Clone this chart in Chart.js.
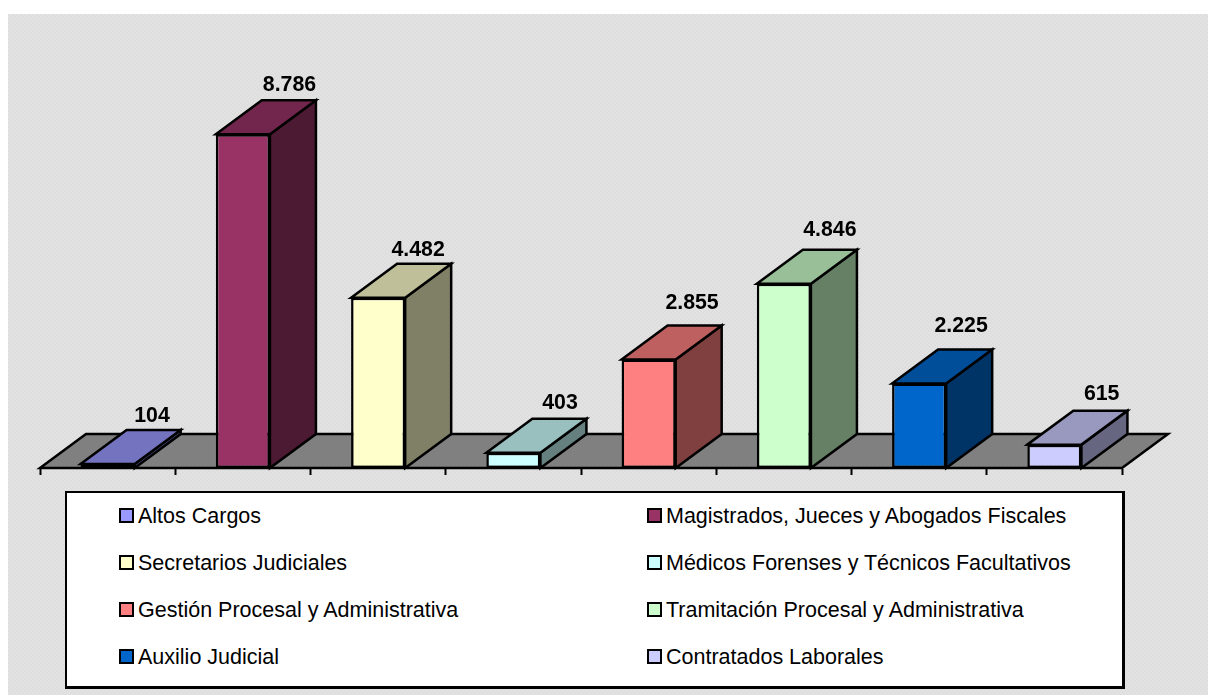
<!DOCTYPE html>
<html lang="es">
<head>
<meta charset="utf-8">
<title>Plantilla judicial</title>
<script src="https://cdn.jsdelivr.net/npm/chart.js@4/dist/chart.umd.js"></script>
<style>
    html, body { margin: 0; padding: 0; background: #fff; width: 1208px; height: 695px; overflow: hidden; }
    #panel {
        position: absolute; left: 8px; top: 14px; width: 1200px; height: 681px; background: #e0e0e0;
        background-image: conic-gradient(#e2e2e2 25%, #dedede 0 50%, #e2e2e2 0 75%, #dedede 0);
        background-size: 4px 4px;
    }
    #wrap { position: absolute; left: 0; top: 0; width: 1208px; height: 695px; }
    #legend {
        position: absolute; left: 65px; top: 491px; width: 1055px; height: 193px;
        background: #fff; border: 2px solid #000; border-right-width: 3px; border-bottom-width: 3px;
        font-family: "Liberation Sans", Arial, sans-serif; font-size: 21.5px; color: #000;
    }
    .item { position: absolute; white-space: nowrap; line-height: 24px; height: 24px; }
    .swatch {
        position: absolute; left: 0; top: 4px; width: 11px; height: 11px; border: 2px solid #000;
    }
    .item span.txt { position: absolute; left: 19px; top: 0; }
</style>
</head>
<body>
<div id="panel"></div>
<div id="wrap"><canvas id="chart" width="1208" height="695"></canvas></div>
<div id="legend"></div>
<script>
// Datos
const categories = [
    'Altos Cargos', 'Magistrados, Jueces y Abogados Fiscales',
    'Secretarios Judiciales', 'Médicos Forenses y Técnicos Facultativos',
    'Gestión Procesal y Administrativa', 'Tramitación Procesal y Administrativa',
    'Auxilio Judicial', 'Contratados Laborales'
];
const values = [104, 8786, 4482, 403, 2855, 4846, 2225, 615];
const frontColors = ['#9999FF', '#993366', '#FFFFCC', '#CCFFFF', '#FF8080', '#CCFFCC', '#0066CC', '#CCCCFF'];
const topColors = ['#7373BF', '#73264D', '#BFBF99', '#99BFBF', '#BF6060', '#99BF99', '#004D99', '#9999BF'];
const sideColors = ['#4D4D80', '#4D1A33', '#808066', '#668080', '#804040', '#668066', '#003366', '#666680'];

// Profundidad del efecto 3D
const depthX = 46;
const depthY = 34;
const edgeWidth = 2.5;

// Ajuste fino de las etiquetas de valor
const labelShiftX = [-1.6, 0.6, -6, 0.6, -2.6, 0, -4, 1.3];
const labelShiftY = [1, 0, 1, -1, -8, -5, -8, -2];

function poly(ctx, pts, fill) {
    ctx.beginPath();
    ctx.moveTo(pts[0][0], pts[0][1]);
    pts.slice(1).forEach(p => ctx.lineTo(p[0], p[1]));
    ctx.closePath();
    if (fill) {
        ctx.fillStyle = fill;
        ctx.fill();
    }
    ctx.stroke();
}

// Suelo gris del grafico
const floorPlugin = {
    id: 'floor3d',
    beforeDraw(chart) {
        const ctx = chart.ctx;
        const a = chart.chartArea;
        ctx.save();
        ctx.strokeStyle = '#000';
        ctx.lineWidth = edgeWidth;
        ctx.lineJoin = 'miter';
        poly(ctx, [[a.left, a.bottom], [a.left + depthX, a.bottom - depthY], [a.right + depthX, a.bottom - depthY], [a.right, a.bottom]], '#808080');
        ctx.restore();
    }
};

// Caras superior y lateral, y etiquetas de valor
const boxPlugin = {
    id: 'box3d',
    afterDatasetsDraw(chart) {
        const ctx = chart.ctx;
        const bars = chart.getDatasetMeta(0).data;
        ctx.save();
        ctx.strokeStyle = '#000';
        ctx.lineWidth = edgeWidth;
        ctx.lineJoin = 'miter';
        bars.forEach((bar, i) => {
            const l = bar.x - bar.width / 2;
            const r = bar.x + bar.width / 2;
            const t = bar.y;
            const b = bar.base;
            poly(ctx, [[r, t], [r + depthX, t - depthY], [r + depthX, b - depthY], [r, b]], sideColors[i]);
            poly(ctx, [[l, t], [l + depthX, t - depthY], [r + depthX, t - depthY], [r, t]], topColors[i]);

            ctx.fillStyle = '#000';
            ctx.font = 'bold 21.3px "Liberation Sans", Arial, sans-serif';
            ctx.textAlign = 'center';
            ctx.textBaseline = 'alphabetic';
            const label = String(values[i]).replace(/\B(?=(\d{3})+$)/g, '.');
            ctx.fillText(label, bar.x + depthX + labelShiftX[i], t - depthY - 9 + labelShiftY[i]);
        });
        ctx.restore();
    }
};

new Chart(document.getElementById('chart').getContext('2d'), {
    type: 'bar',
    data: {
        labels: categories,
        datasets: [{
            data: values,
            backgroundColor: frontColors,
            borderColor: '#000',
            borderWidth: edgeWidth,
            borderSkipped: false,
            categoryPercentage: 0.4,
            barPercentage: 1
        }]
    },
    options: {
        responsive: false,
        animation: false,
        layout: { padding: { left: 40, right: 86, top: 88, bottom: 220 } },
        plugins: { legend: { display: false }, tooltip: { enabled: false } },
        scales: {
            x: {
                ticks: { display: false, autoSkip: false },
                grid: { offset: true, drawOnChartArea: false, drawTicks: true, tickLength: 7, tickWidth: 2, tickColor: '#000' },
                border: { color: '#000', width: 2 }
            },
            y: { display: false, min: 0, max: 10000 }
        }
    },
    plugins: [floorPlugin, boxPlugin]
});

// Leyenda en dos columnas
const legend = document.getElementById('legend');
categories.forEach((name, i) => {
    const item = document.createElement('div');
    item.className = 'item';
    item.style.left = (i % 2 === 0 ? 52 : 580) + 'px';
    item.style.top = (11 + Math.floor(i / 2) * 47) + 'px';
    item.innerHTML = '<div class="swatch" style="background:' + frontColors[i] + '"></div><span class="txt">' + name + '</span>';
    legend.appendChild(item);
});
</script>
</body>
</html>
